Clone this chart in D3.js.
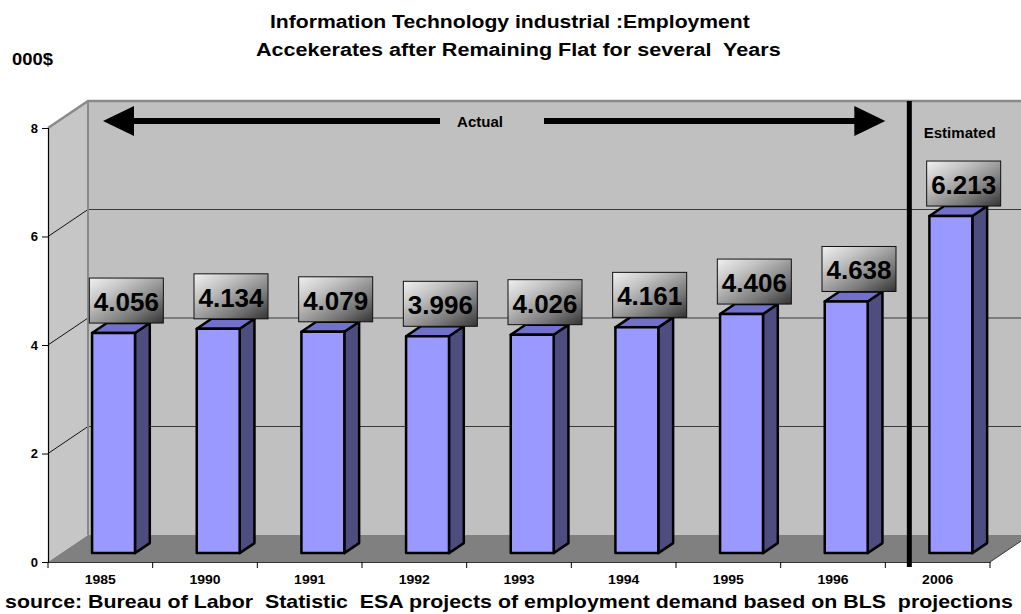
<!DOCTYPE html>
<html>
<head>
<meta charset="utf-8">
<script src="https://cdn.jsdelivr.net/npm/d3@7"></script>
<style>
  html, body { margin: 0; padding: 0; background: #ffffff; }
  svg { display: block; font-family: "Liberation Sans", Arial, sans-serif; }
  text { white-space: pre; }
</style>
</head>
<body>
<svg id="chart" width="1021" height="614"></svg>
<script>
// ---- data ----
const categories = ["1985", "1990", "1991", "1992", "1993", "1994", "1995", "1996", "2006"];
const values = [4.056, 4.134, 4.079, 3.996, 4.026, 4.161, 4.406, 4.638, 6.213];
const yTickValues = [0, 2, 4, 6, 8];
const titleLines = ["Information Technology industrial :Employment", "Accekerates after Remaining Flat for several  Years"];
const unitLabel = "000$";
const sourceText = "source: Bureau of Labor  Statistic  ESA projects of employment demand based on BLS  projections";
const actualLabel = "Actual";
const estimatedLabel = "Estimated";

// ---- layout ----
const svg = d3.select("#chart");
const W = 1021, H = 614;
const DX = 40, DY = 27;             // 3D depth offset
const x = d3.scaleBand().domain(categories).range([48, 990]).paddingInner(0).paddingOuter(0);
const y = d3.scaleLinear().domain([0, 8]).range([562, 128]);
const bw = x.bandwidth();
const x0 = x.range()[0], x1 = x.range()[1];
const proj = (xf, v, z) => [xf + z * DX, y(v) - z * DY];
const pts = arr => arr.map(p => p.join(",")).join(" ");

// horizontally stretch a text element around its anchor point (x, y)
function stretch(node, sx) {
  const tx = +node.getAttribute("x") || 0, ty = +node.getAttribute("y") || 0;
  node.setAttribute("transform", `translate(${tx},${ty}) scale(${sx},1) translate(${-tx},${-ty})`);
}
function fitWidth(node, target) {
  const w = node.getComputedTextLength();
  if (w > 0) stretch(node, target / w);
}

const defs = svg.append("defs");
const grad = defs.append("linearGradient").attr("id", "boxGrad")
  .attr("x1", "0").attr("y1", "0").attr("x2", "1").attr("y2", "1");
grad.append("stop").attr("offset", "0").attr("stop-color", "#f0f0f0");
grad.append("stop").attr("offset", "0.3").attr("stop-color", "#c4c4c4");
grad.append("stop").attr("offset", "0.7").attr("stop-color", "#7a7a7a");
grad.append("stop").attr("offset", "1").attr("stop-color", "#333333");

// ---- walls ----
const yMax = 8, yMin = 0;
svg.append("polygon")
  .attr("points", pts([proj(x0, yMax, 1), proj(x1 + 60, yMax, 1), proj(x1 + 60, yMin, 1), proj(x0, yMin, 1)]))
  .attr("fill", "#c0c0c0");
svg.append("polygon")
  .attr("points", pts([proj(x0, yMax, 0), proj(x0, yMax, 1), proj(x0, yMin, 1), proj(x0, yMin, 0)]))
  .attr("fill", "#c6c6c6");
svg.append("polygon")
  .attr("points", pts([proj(x0, 0, 0), proj(x1, 0, 0), proj(x1, 0, 1), proj(x0, 0, 1)]))
  .attr("fill", "#808080");
yTickValues.filter(v => v > 0 && v < 8).forEach(v => {
  svg.append("line")
    .attr("x1", proj(x0, v, 1)[0]).attr("y1", proj(x0, v, 1)[1])
    .attr("x2", W + 20).attr("y2", proj(x0, v, 1)[1])
    .attr("stroke", "#3a3a3a").attr("stroke-width", 1);
  svg.append("line")
    .attr("x1", proj(x0, v, 0)[0]).attr("y1", proj(x0, v, 0)[1])
    .attr("x2", proj(x0, v, 1)[0]).attr("y2", proj(x0, v, 1)[1])
    .attr("stroke", "#111").attr("stroke-width", 1);
});
svg.append("polyline")
  .attr("points", pts([proj(x0, yMax, 0), proj(x0, yMax, 1), [W + 20, proj(x0, yMax, 1)[1]]]))
  .attr("fill", "none").attr("stroke", "#8a8a8a").attr("stroke-width", 2.5);
svg.append("line")
  .attr("x1", proj(x0, yMax, 1)[0]).attr("y1", proj(x0, yMax, 1)[1])
  .attr("x2", proj(x0, 0, 1)[0]).attr("y2", proj(x0, 0, 1)[1])
  .attr("stroke", "#8a8a8a").attr("stroke-width", 2);
svg.append("line")
  .attr("x1", proj(x1, 0, 0)[0]).attr("y1", proj(x1, 0, 0)[1])
  .attr("x2", proj(x1, 0, 1.2)[0]).attr("y2", proj(x1, 0, 1.2)[1])
  .attr("stroke", "#333").attr("stroke-width", 1);

// ---- axes ----
const yAxis = d3.axisLeft(y).tickValues(yTickValues).tickSize(6).tickPadding(4).tickFormat(d3.format("d"));
const gy = svg.append("g").attr("transform", `translate(${x0},0)`).call(yAxis);
gy.select(".domain").attr("stroke", "#000").attr("stroke-width", 1.2);
gy.selectAll(".tick line").attr("stroke", "#000");
gy.selectAll("text").attr("font-size", 13).attr("font-weight", "bold").attr("fill", "#000")
  .attr("font-family", "Liberation Sans, Arial, sans-serif");

const xAxis = d3.axisBottom(x).tickSize(0).tickPadding(13);
const gx = svg.append("g").attr("transform", `translate(0,${y(0)})`).call(xAxis);
gx.select(".domain").attr("stroke", "#333").attr("stroke-width", 1.2);
gx.selectAll("text").attr("font-size", 12.5).attr("font-weight", "bold").attr("fill", "#000")
  .attr("font-family", "Liberation Sans, Arial, sans-serif")
  .each(function () { stretch(this, 1.12); });
const bounds = categories.map(c => x(c)).concat([x1]);
svg.append("g").selectAll("line").data(bounds).join("line")
  .attr("x1", d => d).attr("x2", d => d)
  .attr("y1", y(0)).attr("y2", y(0) + 6)
  .attr("stroke", "#000").attr("stroke-width", 1);

// ---- bars ----
const zF = 0.33, zB = 0.7;
const barOff = 0.295, barW = 0.41;
const bars = svg.append("g");
categories.forEach((c, i) => {
  const v = values[i];
  const bx0 = x(c) + bw * barOff, bx1 = bx0 + bw * barW;
  const g = bars.append("g")
    .attr("stroke", "#000").attr("stroke-width", 2.5).attr("stroke-linejoin", "round");
  g.append("polygon").attr("fill", "#4d4d80")
    .attr("points", pts([proj(bx1, 0, zF), proj(bx1, v, zF), proj(bx1, v, zB), proj(bx1, 0, zB)]));
  g.append("polygon").attr("fill", "#7171cc")
    .attr("points", pts([proj(bx0, v, zF), proj(bx1, v, zF), proj(bx1, v, zB), proj(bx0, v, zB)]));
  g.append("polygon").attr("fill", "#9999ff")
    .attr("points", pts([proj(bx0, 0, zF), proj(bx1, 0, zF), proj(bx1, v, zF), proj(bx0, v, zF)]));
});

// ---- separator line and annotations ----
const sepX = x("2006") + 0.6 * DX;
svg.append("line")
  .attr("x1", sepX).attr("x2", sepX)
  .attr("y1", proj(x0, yMax, 1)[1]).attr("y2", y(0) + 5)
  .attr("stroke", "#000").attr("stroke-width", 5);

const arrowY = proj(x0, yMax, 1)[1] + 20;
const leftTip = proj(x0, yMax, 1)[0] + 15;
const rightTip = x("2006");
const headL = 31, headH = 15;
const actualCx = 480;
svg.append("line").attr("x1", leftTip + headL - 2).attr("x2", actualCx - 40)
  .attr("y1", arrowY).attr("y2", arrowY).attr("stroke", "#000").attr("stroke-width", 6);
svg.append("line").attr("x1", actualCx + 64).attr("x2", rightTip - headL + 2)
  .attr("y1", arrowY).attr("y2", arrowY).attr("stroke", "#000").attr("stroke-width", 6);
svg.append("polygon").attr("fill", "#000")
  .attr("points", pts([[leftTip, arrowY], [leftTip + headL, arrowY - headH], [leftTip + headL, arrowY + headH]]));
svg.append("polygon").attr("fill", "#000")
  .attr("points", pts([[rightTip, arrowY], [rightTip - headL, arrowY - headH], [rightTip - headL, arrowY + headH]]));
svg.append("text").attr("x", actualCx).attr("y", arrowY + 6)
  .attr("text-anchor", "middle").attr("font-size", 14).attr("font-weight", "bold").text(actualLabel)
  .each(function () { fitWidth(this, 46); });
svg.append("text").attr("x", x("2006") + bw / 2 + 22).attr("y", arrowY + 17)
  .attr("text-anchor", "middle").attr("font-size", 14).attr("font-weight", "bold").text(estimatedLabel)
  .each(function () { fitWidth(this, 72); });

// ---- value label boxes ----
const fmt = d3.format(".3f");
const boxW = 74, boxH = 45;
const lab = svg.append("g");
categories.forEach((c, i) => {
  const v = values[i];
  const cx = x(c) + bw / 2 + 26;
  const bottom = y(v) - zF * DY - 10;
  lab.append("rect")
    .attr("x", cx - boxW / 2).attr("y", bottom - boxH)
    .attr("width", boxW).attr("height", boxH)
    .attr("fill", "url(#boxGrad)").attr("stroke", "#111").attr("stroke-width", 1);
  lab.append("text")
    .attr("x", cx).attr("y", bottom - 12)
    .attr("text-anchor", "middle").attr("font-size", 26).attr("font-weight", "bold")
    .attr("fill", "#000").text(fmt(v));
});

// ---- titles ----
const titleSpans = [[270, 480], [256, 525]];
svg.append("g").selectAll("text").data(titleLines).join("text")
  .attr("x", (d, i) => titleSpans[i][0]).attr("y", (d, i) => 28 + i * 28)
  .attr("font-size", 18).attr("font-weight", "bold")
  .text(d => d)
  .each(function (d, i) { fitWidth(this, titleSpans[i][1]); });
svg.append("text").attr("x", 12).attr("y", 65)
  .attr("font-size", 17).attr("font-weight", "bold").text(unitLabel)
  .each(function () { fitWidth(this, 41); });
svg.append("text").attr("x", 5).attr("y", 608)
  .attr("font-size", 18).attr("font-weight", "bold").text(sourceText)
  .each(function () { fitWidth(this, 1008); });
</script>
</body>
</html>
